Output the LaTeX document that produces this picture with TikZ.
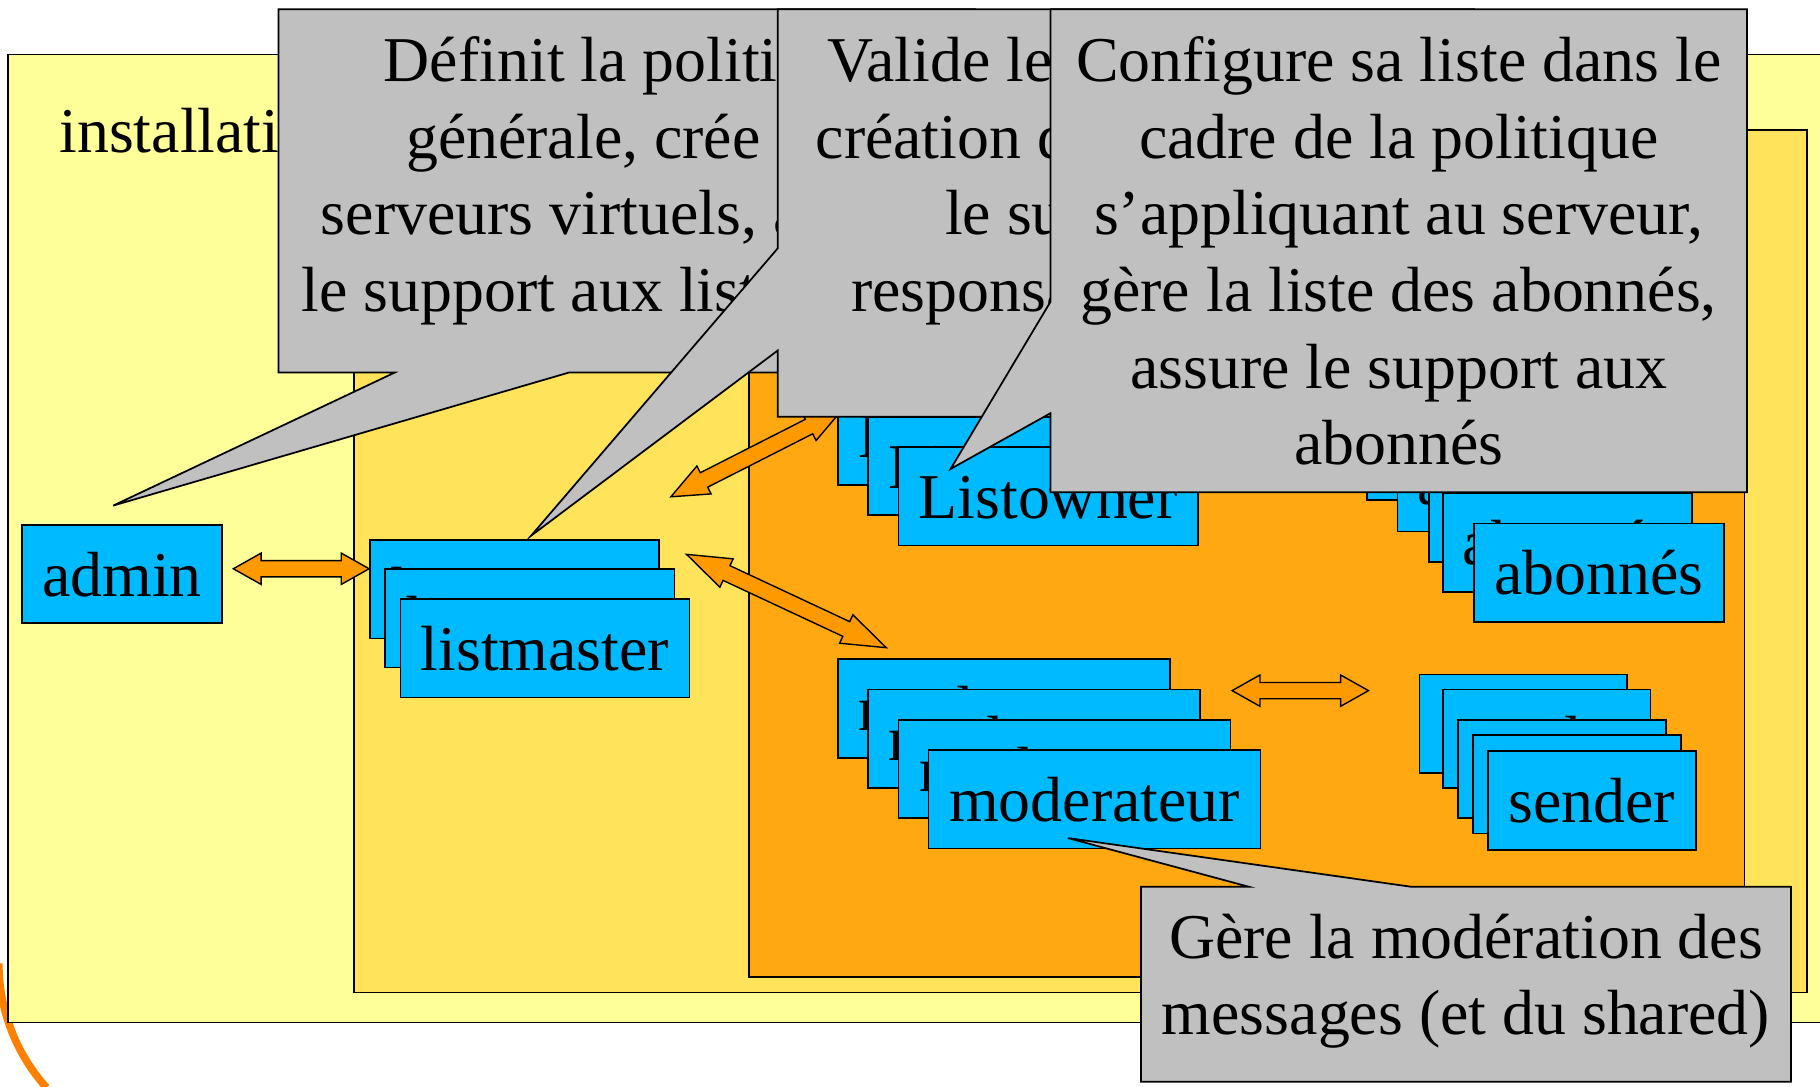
\documentclass[tikz,border=0pt]{standalone}
\usepackage{fontspec}
\setmainfont{Liberation Serif}
\usetikzlibrary{calc}
\definecolor{instyellow}{HTML}{FFFF99}
\definecolor{servyellow}{HTML}{FFE35A}
\definecolor{listorange}{HTML}{FFA812}
\definecolor{roleblue}{HTML}{00BAFF}
\definecolor{bubblegray}{HTML}{C0C0C0}
\definecolor{arrowfill}{HTML}{FF9900}
\definecolor{ringorange}{HTML}{FF8000}
% #1 head length, #2 and #3 the two tips
\newcommand{\dblarrow}[3]{%
  \filldraw[fill=arrowfill, line width=1.2pt, line join=miter]
    (#2) -- ($(#2)!#1!(#3)!13.5pt!90:(#3)$) -- ($(#2)!#1!(#3)!7pt!90:(#3)$)
    -- ($(#3)!#1!(#2)!7pt!-90:(#2)$) -- ($(#3)!#1!(#2)!13.5pt!-90:(#2)$) -- (#3)
    -- ($(#3)!#1!(#2)!13.5pt!90:(#2)$) -- ($(#3)!#1!(#2)!7pt!90:(#2)$)
    -- ($(#2)!#1!(#3)!7pt!-90:(#3)$) -- ($(#2)!#1!(#3)!13.5pt!-90:(#3)$) -- cycle;}

\begin{document}
\begin{tikzpicture}[x=1pt, y=-1pt,
    role/.style={draw, fill=roleblue, line width=1.5pt, anchor=north west, minimum height=85pt,
      inner sep=0pt, outer sep=0pt, text height=38pt, text depth=0pt, font=\fontsize{55}{66}\selectfont},
    zone/.style={draw, line width=1.5pt},
    bubble/.style={draw, fill=bubblegray, line width=1.5pt, line join=miter},
    bubbletext/.style={anchor=north, align=center, inner sep=0pt, font=\fontsize{55}{66}\selectfont}]
  \useasboundingbox (0,0) rectangle (1568,936);

  \draw[line width=6.5pt, ringorange] (-1,830) arc[start angle=180, end angle=138, radius=160];

  \draw[zone, fill=instyellow] (7,47) rectangle (1580,881);
  \node[anchor=base west, inner sep=0pt, font=\fontsize{55}{66}\selectfont] (inst) at (51,131) {installation};
  \draw[zone, fill=servyellow] (305,112) rectangle (1557,855);
  \draw[zone, fill=listorange] (645,300) rectangle (1503,842);

  \node[role, minimum width=172pt] (admin) at (19,452) {admin};

  \node[role, minimum width=249pt] (LM1) at (319,465) {listmaster};
  \node[role, minimum width=249pt] (LM2) at (332,490) {listmaster};
  \node[role, minimum width=249pt] (LM3) at (345,516) {listmaster};

  \node[role, minimum width=258pt] (LO1) at (722,333) {Listowner};
  \node[role, minimum width=258pt] (LO2) at (748,359) {Listowner};
  \node[role, minimum width=258pt] (LO3) at (774,385) {Listowner};

  \node[role, minimum width=215pt] (AB1) at (1178,346) {abonnés};
  \node[role, minimum width=215pt] (AB2) at (1204,373) {abonnés};
  \node[role, minimum width=215pt] (AB3) at (1231,399) {abonnés};
  \node[role, minimum width=215pt] (AB4) at (1243,425) {abonnés};
  \node[role, minimum width=215pt] (AB5) at (1270,451) {abonnés};

  \node[role, minimum width=286pt] (MO1) at (722,568) {moderateur};
  \node[role, minimum width=286pt] (MO2) at (748,594) {moderateur};
  \node[role, minimum width=286pt] (MO3) at (774,620) {moderateur};
  \node[role, minimum width=286pt] (MO4) at (800,646) {moderateur};

  \node[role, minimum width=179pt] (SE1) at (1223,581) {sender};
  \node[role, minimum width=179pt] (SE2) at (1243,594) {sender};
  \node[role, minimum width=179pt] (SE3) at (1256,620) {sender};
  \node[role, minimum width=179pt] (SE4) at (1269,633) {sender};
  \node[role, minimum width=179pt] (SE5) at (1282,647) {sender};

  \coordinate (adminR) at (201,490);
  \coordinate (lmL) at (318,490);
  \coordinate (lmR) at (591.5,477.6);
  \coordinate (moT) at (763.5,558);
  \coordinate (lmT) at (578,428);
  \coordinate (loL) at (725.5,353);
  \coordinate (moR) at (1061.5,595);
  \coordinate (seL) at (1179,595);
  \dblarrow{24pt}{adminR}{lmL}
  \dblarrow{38pt}{lmR}{moT}
  \dblarrow{32pt}{lmT}{loL}
  \dblarrow{24pt}{moR}{seL}

  \coordinate (tipAdmin) at (97.5,435.6);
  \coordinate (tipMaster) at (457.5,461.6);
  \coordinate (tipOwner) at (819,404);
  \coordinate (tipModo) at (920,722);

  \draw[bubble] (240,8) -- (840,8) -- (840,321) -- (490,321) -- (tipAdmin) -- (340,321) -- (240,321) -- cycle;
  \node[bubbletext] (T1) at (540,24) {\strut Définit la politique\\générale, crée les\\serveurs virtuels, assure\\le support aux listmasters};

  \draw[bubble] (670,8) -- (1270,8) -- (1270,359) -- (670,359) -- (670,302) -- (tipMaster) -- (670,214) -- cycle;
  \node[bubbletext] (T2) at (970,24) {\strut Valide les demandes de\\création de listes, assure\\le support aux\\responsables de listes};

  \draw[bubble] (905,8) -- (1505,8) -- (1505,424) -- (905,424) -- (905,356) -- (tipOwner) -- (905,260) -- cycle;
  \node[bubbletext] (T3) at (1205,24) {\strut Configure sa liste dans le\\cadre de la politique\\s’appliquant au serveur,\\gère la liste des abonnés,\\assure le support aux\\abonnés};

  \draw[bubble] (983,764) -- (1076,764) -- (tipModo) -- (1216,764) -- (1543,764) -- (1543,932) -- (983,932) -- cycle;
  \node[bubbletext] (T4) at (1263,779) {\strut Gère la modération des\\messages (et du shared)};
\end{tikzpicture}
\end{document}
